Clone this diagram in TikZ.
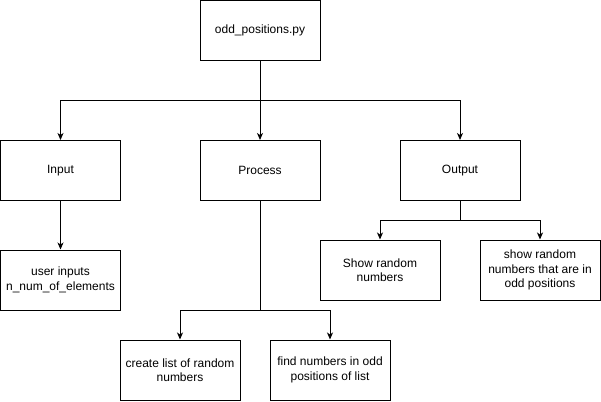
\documentclass[tikz,border=0pt]{standalone}
\usepackage{fontspec}
\setmainfont{Liberation Sans}
\usetikzlibrary{arrows.meta}
\begin{document}
\begin{tikzpicture}[x=1pt,y=-1pt,
  box/.style={draw=black,line width=1pt,minimum width=120pt,minimum height=60pt,align=center,font=\fontsize{12}{14.5}\selectfont,inner sep=0pt},
  conn/.style={line width=1pt,-{Stealth[length=7pt,width=6pt,inset=2pt]}},
  plain/.style={line width=1pt}]
\useasboundingbox (0,0) rectangle (601,401);
\node[box] (top) at (260,30.5) {odd\_positions.py};
\node[box] (input) at (60.5,170.5) {Input};
\node[box] (process) at (260,170.5) {Process};
\node[box] (output) at (460,170.5) {Output};
\node[box] (user) at (60.5,280) {user inputs\\n\_num\_of\_elements};
\node[box] (show) at (380,270) {Show random\\numbers};
\node[box] (showodd) at (540,270) {show random\\numbers that are in\\odd positions};
\node[box] (create) at (180,370) {create list of random\\numbers};
\node[box] (find) at (330,370) {find numbers in odd\\positions of list};
\coordinate (b1) at (260,100);
\coordinate (b2) at (260,310);
\coordinate (b3) at (460,220);
\draw[plain] (top.south) -- (b1);
\draw[conn] (b1) -| (input.north);
\draw[conn] (b1) -- (process.north);
\draw[conn] (b1) -| (output.north);
\draw[conn] (input.south) -- (user.north);
\draw[plain] (process.south) -- (b2);
\draw[conn] (b2) -| (create.north);
\draw[conn] (b2) -| (find.north);
\draw[plain] (output.south) -- (b3);
\draw[conn] (b3) -| (show.north);
\draw[conn] (b3) -| (showodd.north);
\end{tikzpicture}
\end{document}
